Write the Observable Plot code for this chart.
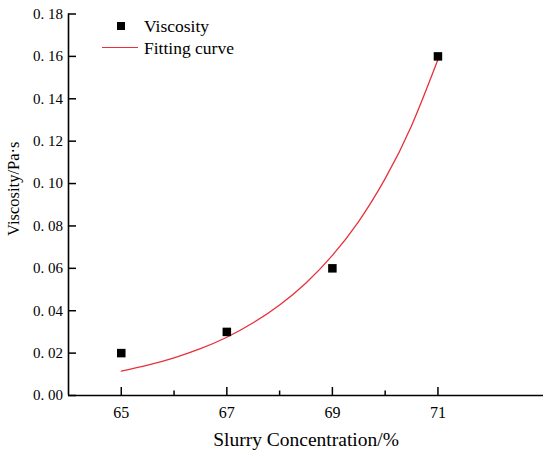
<!DOCTYPE html>
<html>
<head>
<meta charset="utf-8">
<script src="https://cdn.jsdelivr.net/npm/d3@7"></script>
<script src="https://cdn.jsdelivr.net/npm/@observablehq/plot@0.6"></script>
<style>
  body { margin: 0; background: #fff; }
  #chart { position: relative; width: 550px; height: 453px; font-family: "Liberation Serif", serif; }
  #chart svg { display: block; }
  #chart svg text { font-family: "Liberation Serif", serif !important; }
  .lg { position: absolute; }
  .lg-text { font-family: "Liberation Serif", serif; font-size: 17.5px; line-height: 20px; color: #000; white-space: nowrap; }
</style>
</head>
<body>
<div id="chart"></div>
<script>
// Measured data points
const concentration = [65, 67, 69, 71];
const viscosity = [0.02, 0.03, 0.06, 0.16];

// Fitting curve
const fitConcentration = [65, 65.5, 66, 66.5, 67, 67.5, 68, 68.5, 69, 69.5, 70, 70.5, 71];
const fitViscosity = [0.0115, 0.0143, 0.0178, 0.0221, 0.0275, 0.0343, 0.0427, 0.0531, 0.0661, 0.0822, 0.1023, 0.1273, 0.1585];

// Axis ticks
const xMajorTicks = [65, 67, 69, 71];
const xMinorTicks = [66, 68, 70];
const yTicks = [0, 0.02, 0.04, 0.06, 0.08, 0.10, 0.12, 0.14, 0.16, 0.18];

const xLabel = "Slurry Concentration/%";
const yLabel = "Viscosity/Pa·s";
const legendLabels = ["Viscosity", "Fitting curve"];

const red = "#e8303a";
const serif = "Liberation Serif";

const points = concentration.map((x, i) => ({x, y: viscosity[i]}));
const fit = fitConcentration.map((x, i) => ({x, y: fitViscosity[i]}));

const chart = Plot.plot({
  width: 550,
  height: 453,
  marginLeft: 68,
  marginRight: 7,
  marginTop: 13.5,
  marginBottom: 58,
  style: { fontFamily: serif, background: "#fff", color: "#000" },
  x: { domain: [64, 73] },
  y: { domain: [0, 0.18] },
  marks: [
    Plot.line(fit, { x: "x", y: "y", stroke: red, strokeWidth: 1.3, curve: "natural" }),
    Plot.dot(points, { x: "x", y: "y", symbol: "square", r: 4.8, fill: "#000", stroke: "none" }),
    // axis lines
    Plot.ruleY([0], { stroke: "#000", strokeWidth: 1.6 }),
    Plot.ruleX([64], { stroke: "#000", strokeWidth: 1.6 }),
    // inward ticks
    Plot.axisX({ ticks: xMajorTicks, tickSize: 8, dy: -8, tickFormat: () => "", label: null, strokeWidth: 1.5 }),
    Plot.axisX({ ticks: xMinorTicks, tickSize: 4.5, dy: -4.5, tickFormat: () => "", label: null, strokeWidth: 1.5 }),
    Plot.axisY({ ticks: yTicks, tickSize: 8, dx: 8, tickFormat: () => "", label: null, strokeWidth: 1.5 }),
    // tick labels
    Plot.axisX({ ticks: xMajorTicks, tickSize: 0, tickPadding: 11, fontSize: 16, fontFamily: serif, label: null, tickFormat: d => String(d) }),
    Plot.axisY({ ticks: yTicks, tickSize: 0, tickPadding: 5.5, fontSize: 15, fontFamily: serif, label: null,
                 tickFormat: d => d3.format(".2f")(d).replace(".", ". ") }),
    // axis titles
    Plot.text([xLabel], { text: d => d, frameAnchor: "bottom", dy: 37, lineAnchor: "top", fontSize: 19.5, fontFamily: serif, fill: "#000" }),
    Plot.text([yLabel], { text: d => d, frameAnchor: "left", dx: -54.5, dy: -16, rotate: -90, lineAnchor: "middle", textAnchor: "middle", fontSize: 16.5, fontFamily: serif, fill: "#000" })
  ]
});

const container = document.getElementById("chart");
container.appendChild(chart);

// Legend (HTML overlay)
const sq = document.createElement("div");
sq.className = "lg";
Object.assign(sq.style, { left: "116.75px", top: "21.75px", width: "8.5px", height: "8.5px", background: "#000" });
container.appendChild(sq);

const t1 = document.createElement("div");
t1.className = "lg lg-text";
Object.assign(t1.style, { left: "144px", top: "16.4px" });
t1.textContent = legendLabels[0];
container.appendChild(t1);

const ln = document.createElement("div");
ln.className = "lg";
Object.assign(ln.style, { left: "102px", top: "47px", width: "36px", height: "1.3px", background: red });
container.appendChild(ln);

const t2 = document.createElement("div");
t2.className = "lg lg-text";
Object.assign(t2.style, { left: "144px", top: "38.2px" });
t2.textContent = legendLabels[1];
container.appendChild(t2);
</script>
</body>
</html>
